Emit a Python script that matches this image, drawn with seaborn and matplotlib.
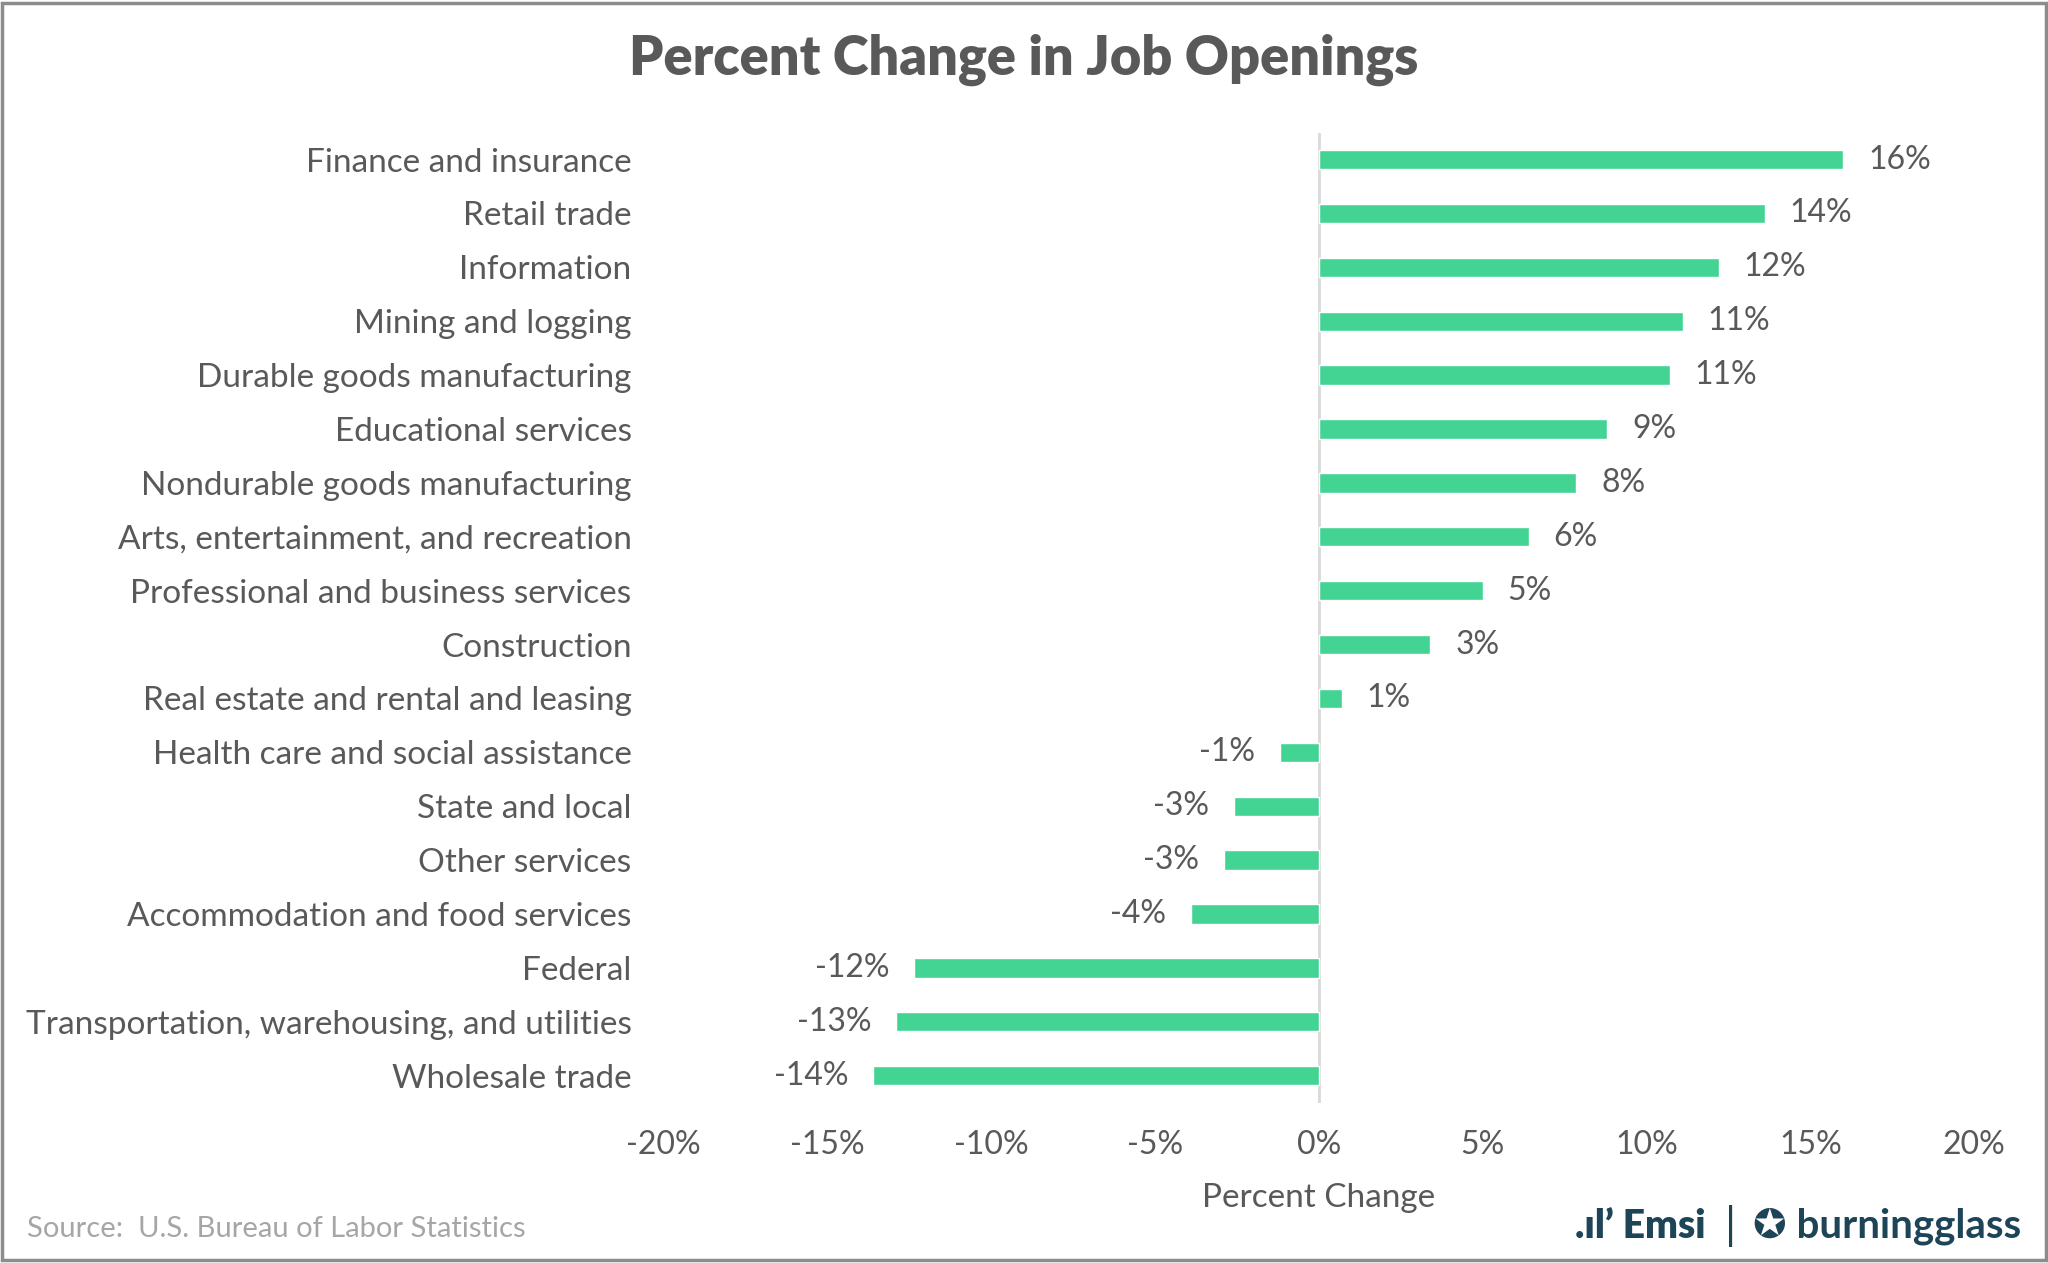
import numpy as np
import pandas as pd
import seaborn as sns
import matplotlib.pyplot as plt
from matplotlib.patches import Rectangle

sns.set_theme(style="white")
plt.rcParams['font.family'] = ['Lato', 'DejaVu Sans']

# data
industries = ["Finance and insurance", "Retail trade", "Information", "Mining and logging",
              "Durable goods manufacturing", "Educational services", "Nondurable goods manufacturing",
              "Arts, entertainment, and recreation", "Professional and business services",
              "Construction", "Real estate and rental and leasing", "Health care and social assistance",
              "State and local", "Other services", "Accommodation and food services", "Federal",
              "Transportation, warehousing, and utilities", "Wholesale trade"]
pct_change = [16.0, 13.6, 12.2, 11.1, 10.7, 8.8, 7.85, 6.4, 5.0, 3.4, 0.7,
              -1.2, -2.6, -2.9, -3.9, -12.35, -12.9, -13.6]
xticks = [-20, -15, -10, -5, 0, 5, 10, 15, 20]

df = pd.DataFrame({'industry': industries, 'pct': pct_change})

grey = '#595959'
green = '#43D493'
navy = '#1d4457'

fig = plt.figure(figsize=(20.48, 12.63), dpi=100)
ax = fig.add_axes([0.324, 0.127, 0.640, 0.768])

sns.barplot(data=df, x='pct', y='industry', orient='h', color=green, width=0.36,
            saturation=1, ax=ax)

ax.axvline(0, color='#d9d9d9', lw=2, zorder=0)
ax.set_xlim(-20, 20)
ax.set_ylim(17.5, -0.5)
ax.set_xticks(xticks)
ax.set_xticklabels([f"{t}%" for t in xticks])
ax.tick_params(axis='x', labelsize=23, colors=grey, pad=20, length=0)
ax.tick_params(axis='y', labelsize=24, colors=grey, pad=23, length=0)
ax.set_ylabel('')
ax.set_xlabel('Percent Change', fontsize=24, color=grey, labelpad=16)
for s in ax.spines.values():
    s.set_visible(False)

ax.bar_label(ax.containers[0], labels=[f"{round(v):.0f}%" for v in pct_change],
             padding=18, fontsize=23, color=grey)

fig.text(0.5, 0.953, 'Percent Change in Job Openings', ha='center', va='center',
         fontsize=39, fontweight='heavy', color=grey)
fig.text(0.013, 0.027, 'Source:  U.S. Bureau of Labor Statistics', ha='left', va='center',
         fontsize=21, color='#a6a6a6')
fig.text(0.833, 0.029, '.\u0131l\u2019 Emsi', ha='right', va='center',
         fontsize=28, fontweight='heavy', color=navy)
fig.text(0.845, 0.029, '|', ha='center', va='center', fontsize=32, color=navy)
fig.text(0.856, 0.029, '\u272a burningglass', ha='left', va='center',
         fontsize=29, fontweight='bold', color=navy, family=['Lato', 'DejaVu Sans'])

fig.add_artist(Rectangle((0.001, 0.002), 0.998, 0.996, transform=fig.transFigure,
                         fill=False, ec='#8c8c8c', lw=2.5))

plt.savefig('out.png', dpi=100)
